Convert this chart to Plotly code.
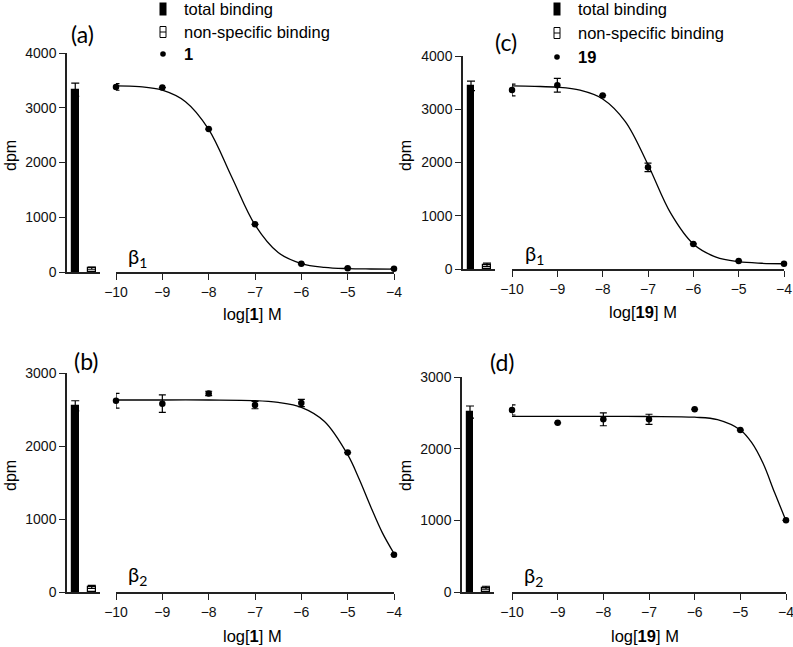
import plotly.graph_objects as go

W, H = 793, 647


def px(x):
    return x / W


def py(y):
    return 1 - y / H


# ---------------- data ----------------
log_conc = [-10, -9, -8, -7, -6, -5, -4]
x_ticks = [-10, -9, -8, -7, -6, -5, -4]
bar_cats = ["total binding", "non-specific binding"]

# panel (a): beta1, compound 1
a_pts = [3380, 3370, 2610, 870, 150, 70, 60]
a_err = [60, 0, 0, 0, 0, 0, 0]
a_bars = [3330, 70]
a_bar_err = [120, 20]
a_fit_x = [-10, -9.5, -9, -8.5, -8, -7.5, -7, -6.5, -6, -5.5, -5, -4.5, -4]
a_fit_y = [3400, 3385, 3320, 3110, 2605, 1730, 860, 355, 155, 85, 62, 55, 52]

# panel (c): beta1, compound 19
c_pts = [3360, 3450, 3260, 1910, 470, 150, 100]
c_err = [110, 130, 0, 80, 0, 0, 0]
c_bars = [3440, 80]
c_bar_err = [90, 30]
c_fit_x = [-10, -9.5, -9, -8.5, -8, -7.5, -7, -6.5, -6, -5.5, -5, -4.5, -4]
c_fit_y = [3438, 3430, 3414, 3357, 3193, 2768, 1958, 1048, 469, 223, 137, 108, 99]

# panel (b): beta2, compound 1
b_pts = [2620, 2580, 2720, 2560, 2590, 1910, 510]
b_err = [100, 120, 30, 50, 50, 0, 0]
b_bars = [2550, 70]
b_bar_err = [70, 20]
b_fit_x = [-10, -9, -8, -7, -6.5, -6, -5.5, -5, -4.75, -4.5, -4.25, -4]
b_fit_y = [2630, 2630, 2630, 2622, 2597, 2530, 2336, 1881, 1545, 1165, 810, 528]

# panel (d): beta2, compound 19
d_pts = [2540, 2360, 2410, 2410, 2550, 2260, 1000]
d_err = [70, 0, 90, 70, 0, 0, 0]
d_bars = [2510, 60]
d_bar_err = [85, 20]
d_fit_x = [-10, -9, -8, -7, -6, -5.5, -5, -4.75, -4.5, -4.25, -4]
d_fit_y = [2450, 2450, 2450, 2449, 2439, 2404, 2260, 2083, 1792, 1387, 995]

# ---------------- layout spec ----------------
panels = [
    dict(lab="(a)", cmp="1", beta="1", pts=a_pts, err=a_err, bars=a_bars, berr=a_bar_err,
         fx=a_fit_x, fy=a_fit_y, xb="x", xm="x2", y="y", ymax=4000,
         bdom=(67, 100), mdom=(116, 394), ydom=(272, 53),
         labpos=(82, 34), betapos=(137, 257), ttl=(252, 314), dpm=(10, 156)),
    dict(lab="(c)", cmp="19", beta="1", pts=c_pts, err=c_err, bars=c_bars, berr=c_bar_err,
         fx=c_fit_x, fy=c_fit_y, xb="x3", xm="x4", y="y2", ymax=4000,
         bdom=(463, 495), mdom=(512, 784), ydom=(269, 56),
         labpos=(506, 42), betapos=(534, 254), ttl=(643, 312), dpm=(405, 156)),
    dict(lab="(b)", cmp="1", beta="2", pts=b_pts, err=b_err, bars=b_bars, berr=b_bar_err,
         fx=b_fit_x, fy=b_fit_y, xb="x5", xm="x6", y="y3", ymax=3000,
         bdom=(67, 100), mdom=(116, 394), ydom=(592, 373),
         labpos=(86, 361), betapos=(137, 575), ttl=(252, 636), dpm=(10, 476)),
    dict(lab="(d)", cmp="19", beta="2", pts=d_pts, err=d_err, bars=d_bars, berr=d_bar_err,
         fx=d_fit_x, fy=d_fit_y, xb="x7", xm="x8", y="y4", ymax=3000,
         bdom=(462, 494), mdom=(512, 786), ydom=(592, 377),
         labpos=(502, 362), betapos=(533, 576), ttl=(645, 636), dpm=(405, 476)),
]

LC = "#222222"
ARIAL = "Liberation Sans, Arial, sans-serif"
TICKFONT = dict(family=ARIAL, size=14, color="#111111")
CAL = "Lato, Carlito, sans-serif"

fig = go.Figure()
annotations = []
shapes = []
layout = {}


def axname(a):
    return a.replace("x", "xaxis").replace("y", "yaxis")


def note(text, x, y, font, xanchor="center", **kw):
    annotations.append(dict(text=text, x=px(x), y=py(y), xref="paper", yref="paper",
                            xanchor=xanchor, yanchor="middle", showarrow=False,
                            borderpad=0, font=font, **kw))


for p in panels:
    # bars
    fig.add_trace(go.Bar(
        x=bar_cats, y=p["bars"], width=[0.42, 0.5],
        marker=dict(color=["black", "white"], line=dict(color="black", width=1.2)),
        error_y=dict(type="data", array=p["berr"], color="black", thickness=1.2, width=4),
        xaxis=p["xb"], yaxis=p["y"], showlegend=False, hoverinfo="skip"))
    # fitted curve
    fig.add_trace(go.Scatter(
        x=p["fx"], y=p["fy"], mode="lines", line=dict(color="black", width=1.3, shape="spline"),
        xaxis=p["xm"], yaxis=p["y"], showlegend=False, cliponaxis=False))
    # data points
    fig.add_trace(go.Scatter(
        x=log_conc, y=p["pts"], mode="markers",
        marker=dict(color="black", size=6.5),
        error_y=dict(type="data", array=p["err"], color="black", thickness=1.2, width=3.5),
        xaxis=p["xm"], yaxis=p["y"], showlegend=False, cliponaxis=False))

    yk = p["y"]
    xb, xm = p["xb"], p["xm"]
    layout[axname(xb)] = dict(
        domain=[px(p["bdom"][0]), px(p["bdom"][1])], anchor=yk, type="category",
        range=[-0.5, 1.5], showline=True, linecolor=LC, linewidth=1.5, automargin=False,
        showticklabels=False, ticks="", showgrid=False, zeroline=False, fixedrange=True)
    layout[axname(xm)] = dict(
        domain=[px(p["mdom"][0]), px(p["mdom"][1])], anchor=yk, range=[-10, -4],
        tickmode="array", tickvals=x_ticks, ticks="outside", ticklen=6, tickwidth=1.3,
        tickcolor=LC, showline=True, linecolor=LC, linewidth=1.5, showgrid=False,
        zeroline=False, tickfont=TICKFONT, automargin=False, ticklabeloverflow="allow")
    layout[axname(yk)] = dict(
        domain=[py(p["ydom"][0]), py(p["ydom"][1])], anchor=xb, range=[0, p["ymax"]],
        dtick=1000, tick0=0, ticks="outside", ticklen=6, tickwidth=1.3, tickcolor=LC,
        showline=True, linecolor=LC, linewidth=1.5, showgrid=False, zeroline=False,
        tickfont=TICKFONT, automargin=False)

    note(p["lab"], *p["labpos"], font=dict(family=CAL, size=23, color="black"))
    note("β<sub>" + p["beta"] + "</sub>", *p["betapos"],
         font=dict(family=CAL, size=20, color="black"))
    note("log[<b>" + p["cmp"] + "</b>] M", *p["ttl"],
         font=dict(family=ARIAL, size=16.5, color="black"))
    note("dpm", *p["dpm"], font=dict(family=ARIAL, size=16, color="black"), textangle=-90)

# ---------------- legends (top panels) ----------------
legend_specs = [
    dict(sym_x=163, text_x=183, rows=(9, 32, 54), cmp="1"),
    dict(sym_x=557, text_x=577, rows=(9, 33, 57), cmp="19"),
]
LF = dict(family=ARIAL, size=16.5, color="black")
for L in legend_specs:
    sx = L["sym_x"]
    r1, r2, r3 = L["rows"]
    shapes.append(dict(type="rect", xref="paper", yref="paper",
                       x0=px(sx - 3.5), x1=px(sx + 3.5), y0=py(r1 + 6.5), y1=py(r1 - 6.5),
                       fillcolor="black", line=dict(color="black", width=0)))
    shapes.append(dict(type="rect", xref="paper", yref="paper",
                       x0=px(sx - 3), x1=px(sx + 3), y0=py(r2 + 5.5), y1=py(r2 - 5.5),
                       fillcolor="white", line=dict(color="black", width=1)))
    shapes.append(dict(type="line", xref="paper", yref="paper",
                       x0=px(sx - 3), x1=px(sx + 3), y0=py(r2), y1=py(r2),
                       line=dict(color="black", width=1)))
    shapes.append(dict(type="circle", xref="paper", yref="paper",
                       x0=px(sx - 2.8), x1=px(sx + 2.8), y0=py(r3 + 2.8), y1=py(r3 - 2.8),
                       fillcolor="black", line=dict(color="black", width=0)))
    for txt, r in [("total binding", r1), ("non-specific binding", r2),
                   ("<b>" + L["cmp"] + "</b>", r3)]:
        note(txt, L["text_x"], r, font=LF, xanchor="left")

fig.update_layout(
    width=W, height=H, margin=dict(l=0, r=0, t=0, b=0, pad=0, autoexpand=False),
    paper_bgcolor="white", plot_bgcolor="white", showlegend=False,
    bargap=0, annotations=annotations, shapes=shapes, **layout)

fig.write_html("out.html", config={"displayModeBar": False},
               post_script="document.body.style.margin='0';document.body.style.overflow='hidden';")
